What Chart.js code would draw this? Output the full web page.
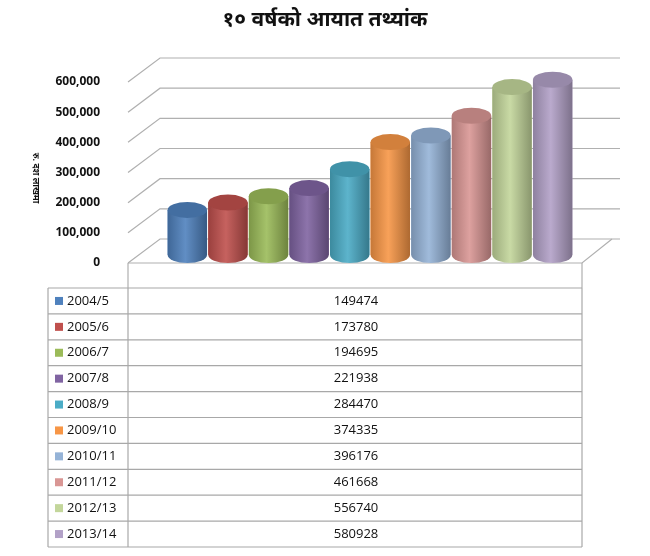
<!DOCTYPE html>
<html><head><meta charset="utf-8">
<script src="https://cdn.jsdelivr.net/npm/chart.js@4"></script>
<style>html,body{margin:0;padding:0;background:#fff}#w{width:650px;height:556px}</style>
</head><body><div id="w"><canvas id="c" width="650" height="556"></canvas></div>
<script>
const title = "१० वर्षको आयात तथ्यांक";
const yLabel = "रु. दश लाखमा";
const years = ["2004/5","2005/6","2006/7","2007/8","2008/9","2009/10","2010/11","2011/12","2012/13","2013/14"];
const values = [149474,173780,194695,221938,284470,374335,396176,461668,556740,580928];
const colors = ["#4F81BD","#C0504D","#9BBB59","#8064A2","#4BACC6","#F79646","#95B3D7","#D99694","#C3D69B","#B2A1C7"];
const yTicks = [0,100000,200000,300000,400000,500000,600000];

const DEV = "'Noto Sans Devanagari','Noto Sans','Lohit Devanagari',sans-serif";
function shade(hex, f){
  let n=parseInt(hex.slice(1),16), r=n>>16, g=(n>>8)&255, b=n&255;
  const m=v=>Math.max(0,Math.min(255,Math.round(f<0? v*(1+f) : v+(255-v)*f)));
  return `rgb(${m(r)},${m(g)},${m(b)})`;
}
const BL=165, BR=575, TOP=74, BOT=255;
const DY=16;

const frame = {
  id:'frame',
  beforeDatasetsDraw(ch){
    const c=ch.ctx, y=ch.scales.y, a=ch.chartArea;
    c.save(); c.strokeStyle='#b0b0b0'; c.lineWidth=1.2;
    yTicks.forEach(v=>{
      const py=y.getPixelForValue(v);
      c.beginPath(); c.moveTo(a.left-37,py+8); c.lineTo(a.left-5,py-DY); c.lineTo(620,py-DY); c.stroke();
    });
    const p0=y.getPixelForValue(0);
    c.beginPath(); c.moveTo(a.left-37,p0+8); c.lineTo(582,p0+8); c.lineTo(612,p0-DY); c.stroke();
    c.beginPath(); c.moveTo(a.left-37,p0+8); c.lineTo(a.left-37,p0+33); c.moveTo(582,p0+8); c.lineTo(582,p0+33); c.stroke();
    c.restore();
  },
  afterDatasetsDraw(ch){
    const c=ch.ctx;
    ch.data.datasets.forEach((ds,i)=>{
      const el=ch.getDatasetMeta(i).data[0];
      const w=el.width, x=el.x, rx=w/2, ry=8;
      c.save();
      const g=c.createLinearGradient(x-rx,0,x+rx,0);
      g.addColorStop(0,shade(colors[i],-0.2)); g.addColorStop(0.45,shade(colors[i],0.1)); g.addColorStop(1,shade(colors[i],-0.3));
      c.fillStyle=g;
      c.beginPath(); c.moveTo(x-rx,el.y); c.lineTo(x-rx,el.base);
      c.ellipse(x,el.base,rx,ry,0,Math.PI,0,true); c.lineTo(x+rx,el.y); c.closePath(); c.fill();
      c.fillStyle=shade(colors[i],-0.15);
      c.beginPath(); c.ellipse(x,el.y,rx,ry,0,0,2*Math.PI); c.fill();
      c.restore();
    });
  },
  afterDraw(ch){
    const c=ch.ctx;
    c.save();
    c.fillStyle='#111'; c.textAlign='center'; c.textBaseline='middle';
    c.font="bold 21px "+DEV; c.fillText(title,325,22);
    c.translate(35,178); c.rotate(Math.PI/2); c.font="bold 9px "+DEV; c.fillText(yLabel,0,0);
    c.restore();
    c.save();
    const T=288, RH=25.9, L=48, M=128, R=582;
    c.strokeStyle='#a8a8a8'; c.lineWidth=1.2;
    for(let k=0;k<=years.length;k++){c.beginPath();c.moveTo(L,T+k*RH);c.lineTo(R,T+k*RH);c.stroke();}
    [L,M,R].forEach(xx=>{c.beginPath();c.moveTo(xx,T);c.lineTo(xx,T+years.length*RH);c.stroke();});
    c.font="13px 'Open Sans',sans-serif"; c.textBaseline='middle';
    years.forEach((yr,k)=>{
      const cy=T+k*RH+RH/2;
      c.fillStyle=colors[k]; c.fillRect(55,cy-4,8,8);
      c.fillStyle='#111'; c.textAlign='left'; c.fillText(yr,67,cy);
      c.textAlign='center'; c.fillText(String(values[k]),356,cy);
    });
    c.restore();
  }
};

new Chart(document.getElementById('c'),{
  type:'bar',
  data:{labels:[''],datasets:years.map((y,i)=>({label:y,data:[values[i]],backgroundColor:colors[i],borderWidth:0}))},
  options:{responsive:false,animation:false,
    layout:{padding:{left:0,right:650-BR,top:TOP,bottom:556-BOT}},
    datasets:{bar:{categoryPercentage:0.99,barPercentage:0.97}},
    plugins:{legend:{display:false},tooltip:{enabled:false}},
    scales:{
      x:{display:false},
      y:{min:0,max:600000,afterFit(s){s.width=BL;},
        afterBuildTicks(s){s.ticks=yTicks.map(v=>({value:v}));},
        grid:{display:false},border:{display:false},
        ticks:{labelOffset:8,padding:57,color:'#111',font:{family:"'Open Sans',sans-serif",size:12,weight:'bold'}}}
    }},
  plugins:[frame]
});
</script></body></html>
